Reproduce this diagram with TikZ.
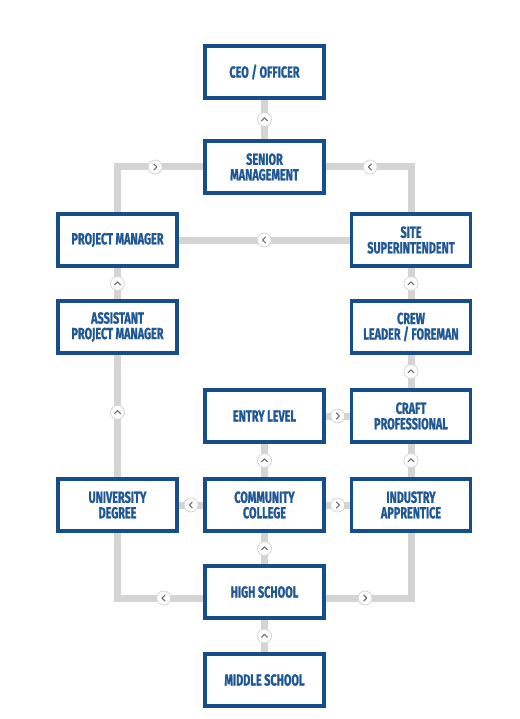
\documentclass[tikz,border=0pt]{standalone}
\usepackage{fontspec}
\setmainfont{Fira Sans}[FakeStretch=0.68, BoldFeatures={FakeBold=1.2}]
\usepackage{tikz}
\definecolor{boxblue}{RGB}{22,78,140}
\definecolor{txtblue}{RGB}{32,88,150}
\definecolor{linegray}{RGB}{212,212,212}
\definecolor{chevgray}{RGB}{110,110,110}

\begin{document}
\begin{tikzpicture}[x=1pt,y=-1pt,
    job/.style={draw=boxblue, line width=3.8pt, fill=white, minimum width=119pt, minimum height=52pt,
      inner sep=2pt, align=center, text=txtblue, font=\bfseries\fontsize{16}{15.5}\selectfont},
    conn/.style={linegray, line width=7pt},
    chevbase/.style={circle, draw=linegray, line width=0.8pt, fill=white, minimum size=14pt, inner sep=0pt},
    chevline/.style={chevgray, line width=1.1pt, line cap=round, line join=round},
    chevup/.style={chevbase, path picture={\draw[chevline] ([shift={(-3pt,-1.3pt)}]path picture bounding box.center)
      -- ++(3pt,3pt) -- ++(3pt,-3pt);}},
    chevright/.style={chevbase, path picture={\draw[chevline] ([shift={(-1.3pt,3pt)}]path picture bounding box.center)
      -- ++(3pt,-3pt) -- ++(-3pt,-3pt);}},
    chevleft/.style={chevbase, path picture={\draw[chevline] ([shift={(1.3pt,3pt)}]path picture bounding box.center)
      -- ++(-3pt,-3pt) -- ++(3pt,-3pt);}}]
    \useasboundingbox (0,0) rectangle (519,719);

    % jobs
    \node[job] (ceo) at (264.5,72) {CEO / OFFICER};
    \node[job] (senior) at (264.5,167) {SENIOR\\MANAGEMENT};
    \node[job] (pm) at (117.5,240) {PROJECT MANAGER};
    \node[job] (site) at (411,240) {SITE\\SUPERINTENDENT};
    \node[job] (apm) at (117.5,327) {ASSISTANT\\PROJECT MANAGER};
    \node[job] (crew) at (411,327) {CREW\\LEADER / FOREMAN};
    \node[job] (entry) at (264.5,416) {ENTRY LEVEL};
    \node[job] (craft) at (411,416) {CRAFT\\PROFESSIONAL};
    \node[job] (univ) at (117.5,505) {UNIVERSITY\\DEGREE};
    \node[job] (college) at (264.5,505) {COMMUNITY\\COLLEGE};
    \node[job] (appr) at (411,505) {INDUSTRY\\APPRENTICE};
    \node[job] (high) at (264.5,592) {HIGH SCHOOL};
    \node[job] (middle) at (264.5,680) {MIDDLE SCHOOL};

    % paths
    \draw[conn] (ceo) -- node[chevup] {} (senior);
    \draw[conn] (senior.west) -| node[chevright, pos=0.28] {} (pm.north);
    \draw[conn] (senior.east) -| node[chevleft, pos=0.26] {} (site.north);
    \draw[conn] (site) -- node[chevleft] {} (pm);
    \draw[conn] (pm) -- node[chevup] {} (apm);
    \draw[conn] (site) -- node[chevup] {} (crew);
    \draw[conn] (apm) -- node[chevup, pos=0.47] {} (univ);
    \draw[conn] (crew) -- node[chevup] {} (craft);
    \draw[conn] (entry) -- node[chevright] {} (craft);
    \draw[conn] (entry) -- node[chevup] {} (college);
    \draw[conn] (craft) -- node[chevup] {} (appr);
    \draw[conn] (college) -- node[chevleft] {} (univ);
    \draw[conn] (college) -- node[chevright] {} (appr);
    \draw[conn] (high) -- node[chevup] {} (college);
    \draw[conn] ([yshift=-6pt]high.west) -| node[chevleft, pos=0.23] {} (univ.south);
    \draw[conn] ([yshift=-6pt]high.east) -| node[chevright, pos=0.23] {} (appr.south);
    \draw[conn] (middle) -- node[chevup] {} (high);
  \end{tikzpicture}
\end{document}
